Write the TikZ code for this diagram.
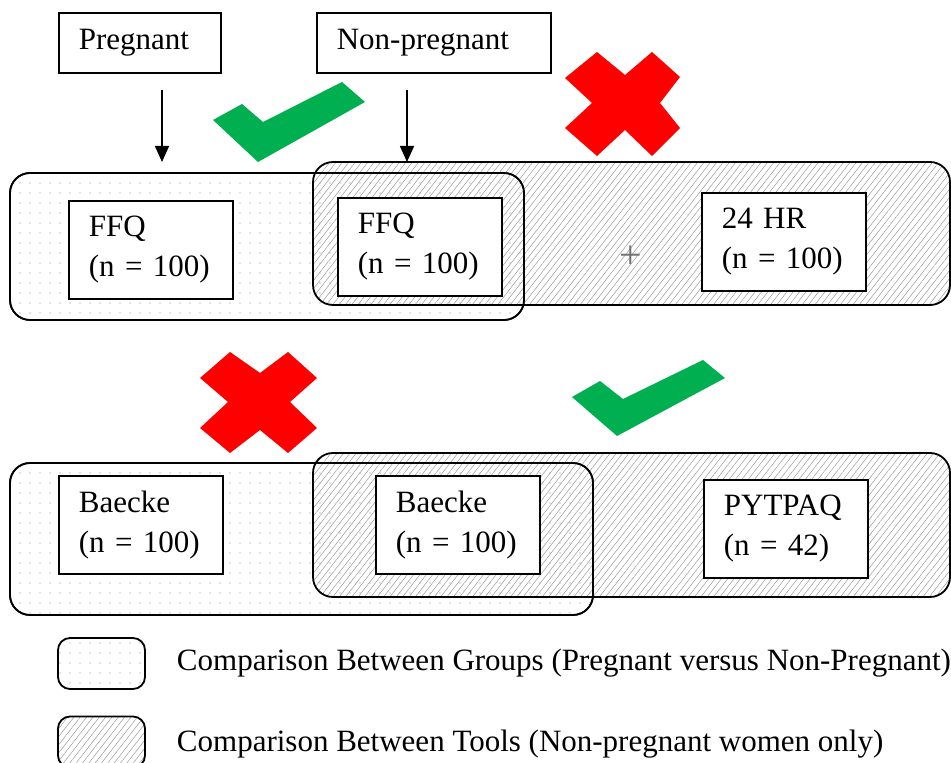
\documentclass[tikz,border=0pt]{standalone}
\usepackage{fontspec}
\setmainfont{Liberation Serif}
\usetikzlibrary{arrows.meta,positioning,patterns.meta}
\definecolor{okgreen}{RGB}{0,176,80}
\definecolor{nored}{RGB}{255,0,0}

\begin{document}
\begin{tikzpicture}[
  x=0.5pt, y=-0.5pt,
  font=\fontsize{15.5}{20}\selectfont,
  grp/.style={draw=black, line width=0.9pt, rounded corners=10pt,
              pattern={Dots[distance=5pt,radius=0.35pt]}, pattern color=black!45},
  tls/.style={draw=black, line width=0.9pt, rounded corners=10pt,
              pattern={Lines[angle=52,distance=2.5pt,line width=0.25pt]}, pattern color=black!40},
  who/.style={draw, line width=0.8pt, fill=white, align=left, inner xsep=10pt,
              minimum height=30pt, anchor=north west},
  tool/.style={draw, line width=0.9pt, fill=white, align=left, text width=62pt,
               inner xsep=10pt, minimum height=49pt, anchor=north west},
  key/.style={draw, line width=0.9pt, rounded corners=6pt, minimum width=43.5pt,
              minimum height=25.5pt, inner sep=0pt},
  arr/.style={-{Triangle[width=7pt,length=8pt]}, line width=0.7pt},
  yes/.style={fill=okgreen},
  no/.style={fill=nored}
]
\useasboundingbox (0,0) rectangle (951,763);

\node[who, text width=61pt] (preg) at (58,12) {Pregnant};
\node[who, text width=97pt] (nonpreg) at (316,12) {Non-pregnant};

\fill[grp] (10,173) rectangle (524,320);
\draw[tls] (313,162) rectangle (950,305);
\draw[line width=0.8pt, rounded corners=10pt] (10,173) rectangle (524,320);

\fill[grp] (10,463) rectangle (593,615);
\draw[tls] (313,453) rectangle (950,597);
\draw[line width=0.8pt, rounded corners=10pt] (10,463) rectangle (593,615);

\node[tool] (ffqp) at (68,200) {FFQ\\(n = 100)};
\node[tool] (ffqn) at (337,197) {FFQ\\(n = 100)};
\node[tool] (hr) at (701,192) {24 HR\\(n = 100)};
\node[text=black!55, font=\fontsize{20}{20}\selectfont] (plus) at (631,257) {+};

\node[tool] (baeckep) at (58,475) {Baecke\\(n = 100)};
\node[tool] (baecken) at (375,475) {Baecke\\(n = 100)};
\node[tool] (pytpaq) at (703,479) {PYTPAQ\\(n = 42)};

\coordinate (ptip) at (162,162);
\coordinate (ntip) at (407,162);
\draw[arr] ([yshift=-8pt]preg.south -| ptip) -- (ptip);
\draw[arr] ([yshift=-8pt]nonpreg.south -| ntip) -- (ntip);

\fill[yes] (213,120) -- (242,104) -- (263,122) -- (342,82) -- (365,102) -- (258,162) -- cycle;
\fill[no] (565,78) -- (597,52) -- (625,75) -- (652,52) -- (680,77) -- (660,103)
  -- (680,128) -- (652,156) -- (625,130) -- (597,156) -- (565,128) -- (592,103) -- cycle;

\fill[no] (200,378) -- (230,352) -- (260,373) -- (288,352) -- (317,378) -- (290,402)
  -- (317,428) -- (288,453) -- (260,430) -- (230,453) -- (200,428) -- (228,402) -- cycle;
\fill[yes] (572,397) -- (600,381) -- (623,399) -- (703,360) -- (725,378) -- (617,436) -- cycle;

\node[key, pattern={Dots[distance=5pt,radius=0.35pt]}, pattern color=black!45] (keygrp) at (101.5,663.5) {};
\node[key, pattern={Lines[angle=52,distance=2.5pt,line width=0.25pt]}, pattern color=black!40] (keytls) at (101.5,742) {};
\node[right=12pt of keygrp] (txtgrp) {Comparison Between Groups (Pregnant versus Non-Pregnant)};
\node[right=12pt of keytls, yshift=-1pt] (txttls) {Comparison Between Tools (Non-pregnant women only)};
\end{tikzpicture}
\end{document}
